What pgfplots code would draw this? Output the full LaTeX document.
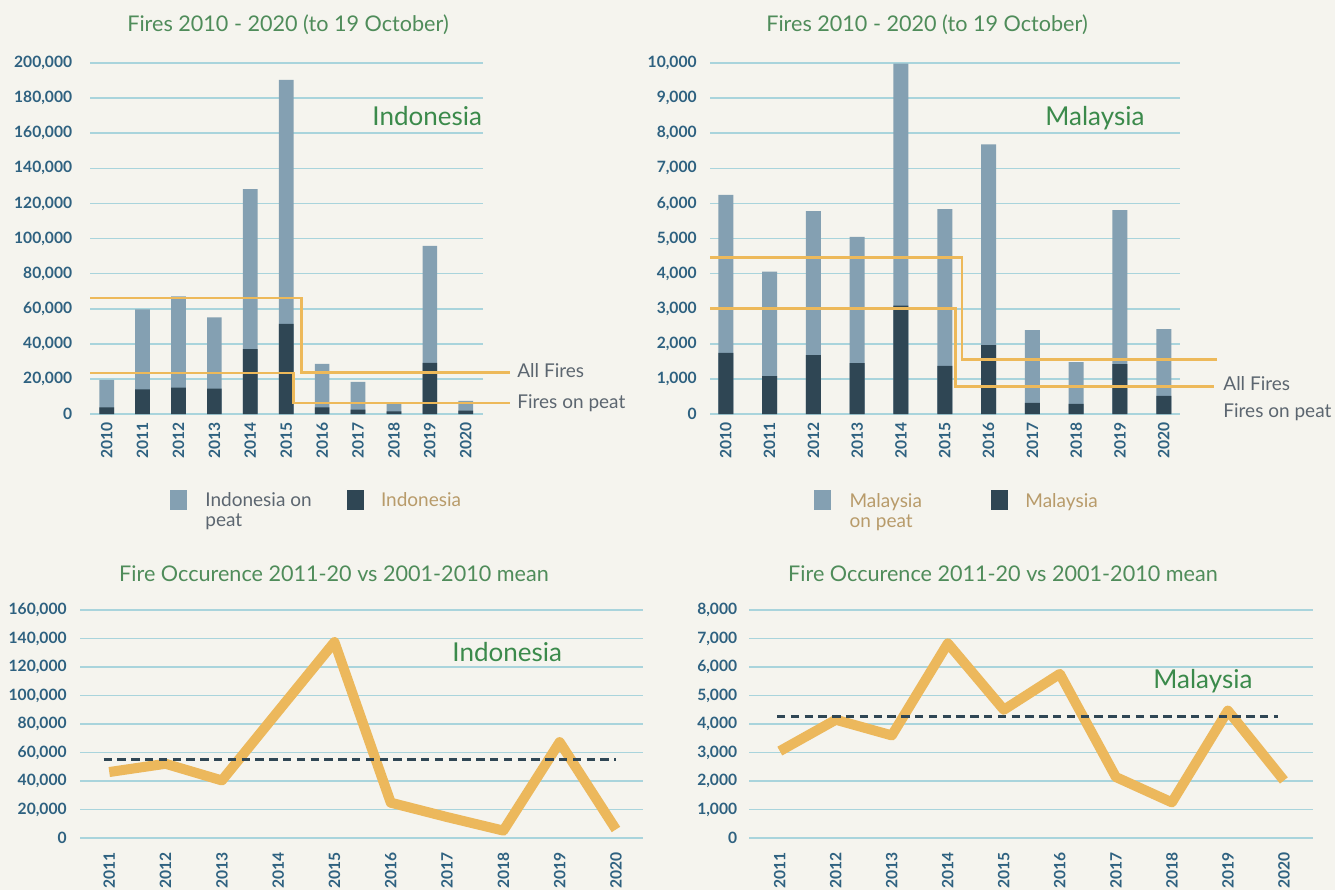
\documentclass[border=0pt]{standalone}
\usepackage{fontspec}
\setmainfont{Lato}
\usepackage{pgfplots}
\pgfplotsset{compat=1.18}
\definecolor{bg}{HTML}{F5F4EE}
\definecolor{lightbar}{HTML}{84A0B2}
\definecolor{darkbar}{HTML}{2F4654}
\definecolor{stepc}{HTML}{EDB95A}
\definecolor{bigline}{HTML}{ECB85C}
\definecolor{gridc}{HTML}{A9D4DC}
\definecolor{tickc}{HTML}{2E6180}
\definecolor{titlec}{HTML}{4F8C5A}
\definecolor{countryc}{HTML}{3B8A4B}
\definecolor{grayt}{HTML}{5C6670}
\definecolor{tan}{HTML}{B89B6A}
\pgfplotsset{
  base/.style={
    scale only axis, anchor=south west, clip=false,
    axis line style={draw=none}, major tick length=0pt,
    ymajorgrids, grid style={gridc, line width=0.8pt},
    ymin=0,
    scaled y ticks=false,
    ticklabel style={font=\bfseries\fontsize{7.8}{9}\selectfont, text=tickc},
    yticklabel style={anchor=east, inner xsep=0pt},
  },
  topx/.style={
    xtick={0,...,10},
    xticklabels={2010,2011,2012,2013,2014,2015,2016,2017,2018,2019,2020},
    xticklabel style={rotate=90, anchor=east, inner xsep=4pt},
  },
  botx/.style={
    xtick={0,...,9},
    xticklabels={2011,2012,2013,2014,2015,2016,2017,2018,2019,2020},
    xticklabel style={rotate=90, anchor=east, inner xsep=7pt},
  },
}
\newcommand{\titlef}{\fontsize{10.8}{12}\selectfont}
\newcommand{\bigf}{\fontsize{13}{15}\selectfont}
\newcommand{\labf}{\fontsize{9.5}{11}\selectfont}
\begin{document}
\begin{tikzpicture}
\useasboundingbox (0,0) rectangle (667.5pt,-445pt);
\fill[bg] (0,0) rectangle (667.5pt,-445pt);
% ---------- Top Indonesia
\begin{axis}[base, topx, at={(45.25pt,-207pt)}, width=196.25pt, height=175.5pt,
  xmin=-0.45, xmax=10.48, ymax=200000, ytick={0,20000,...,200000},
  yticklabels={0,{20,000},{40,000},{60,000},{80,000},{100,000},{120,000},{140,000},{160,000},{180,000},{200,000}},
  yticklabel style={xshift=-9pt}]
\addplot[ybar, bar width=7.35pt, bar shift=0pt, fill=lightbar, draw=none] coordinates {
(0,19500) (1,59600) (2,67000) (3,55100) (4,128100) (5,190400) (6,28500) (7,18300) (8,5800) (9,95800) (10,7500)};
\addplot[ybar, bar width=7.35pt, bar shift=0pt, fill=darkbar, draw=none] coordinates {
(0,3800) (1,14000) (2,15100) (3,14500) (4,37000) (5,51300) (6,3800) (7,2500) (8,1500) (9,29100) (10,1900)};
\addplot[stepc, line width=1.3pt] coordinates {(-0.45,66000) (5.43,66000) (5.43,23700) (11.22,23700)};
\addplot[stepc, line width=1.3pt] coordinates {(-0.45,23300) (5.2,23300) (5.2,6200) (11.22,6200)};
\end{axis}
% ---------- Top Malaysia
\begin{axis}[base, topx, at={(355pt,-207pt)}, width=235pt, height=175.5pt,
  xmin=-0.36, xmax=10.37, ymax=10000, ytick={0,1000,...,10000},
  yticklabels={0,{1,000},{2,000},{3,000},{4,000},{5,000},{6,000},{7,000},{8,000},{9,000},{10,000}},
  yticklabel style={xshift=-6.5pt}]
\addplot[ybar, bar width=7.5pt, bar shift=0pt, fill=lightbar, draw=none] coordinates {
(0,6240) (1,4060) (2,5780) (3,5050) (4,9980) (5,5840) (6,7680) (7,2390) (8,1480) (9,5810) (10,2420)};
\addplot[ybar, bar width=7.5pt, bar shift=0pt, fill=darkbar, draw=none] coordinates {
(0,1740) (1,1080) (2,1680) (3,1450) (4,3090) (5,1370) (6,1960) (7,320) (8,290) (9,1420) (10,520)};
\addplot[stepc, line width=1.3pt] coordinates {(-0.36,4460) (5.39,4460) (5.39,1560) (11.21,1560)};
\addplot[stepc, line width=1.3pt] coordinates {(-0.36,3000) (5.25,3000) (5.25,790) (11.14,790)};
\end{axis}
% ---------- Bottom Indonesia
\begin{axis}[base, botx, at={(40pt,-419pt)}, width=281.5pt, height=114pt,
  xmin=-0.52, xmax=9.48, ymax=160000, ytick={0,20000,...,160000},
  yticklabels={0,{20,000},{40,000},{60,000},{80,000},{100,000},{120,000},{140,000},{160,000}},
  yticklabel style={xshift=-6.5pt}]
\addplot[bigline, line width=5pt, line join=round] coordinates {
(0,46300) (1,52100) (2,40400) (3,89000) (4,137500) (5,24800) (6,14700) (7,5200) (8,67300) (9,6000)};
\addplot[darkbar, line width=1.4pt, dash pattern=on 4.2pt off 2.7pt] coordinates {(-0.1,55000) (9,55000)};
\end{axis}
% ---------- Bottom Malaysia
\begin{axis}[base, botx, at={(374.5pt,-419pt)}, width=282pt, height=114pt,
  xmin=-0.55, xmax=9.52, ymax=8000, ytick={0,1000,...,8000},
  yticklabels={0,{1,000},{2,000},{3,000},{4,000},{5,000},{6,000},{7,000},{8,000}},
  yticklabel style={xshift=-5.75pt}]
\addplot[bigline, line width=5pt, line join=round] coordinates {
(0,3050) (1,4150) (2,3600) (3,6830) (4,4500) (5,5760) (6,2140) (7,1250) (8,4470) (9,2020)};
\addplot[darkbar, line width=1.4pt, dash pattern=on 4.2pt off 2.7pt] coordinates {(-0.05,4270) (8.9,4270)};
\end{axis}
% ---------- Titles
\node[text=titlec, font=\titlef] at (144pt,-12.5pt) {Fires 2010 - 2020 (to 19 October)};
\node[text=titlec, font=\titlef] at (463.5pt,-12.5pt) {Fires 2010 - 2020 (to 19 October)};
\node[text=titlec, font=\titlef] at (167pt,-287pt) {Fire Occurence 2011-20 vs 2001-2010 mean};
\node[text=titlec, font=\titlef] at (501.5pt,-287pt) {Fire Occurence 2011-20 vs 2001-2010 mean};
% ---------- Country labels
\node[text=countryc, font=\bigf, anchor=base west, inner sep=0pt] at (186pt,-62.5pt) {Indonesia};
\node[text=countryc, font=\bigf, anchor=base west, inner sep=0pt] at (522.5pt,-62.5pt) {Malaysia};
\node[text=countryc, font=\bigf, anchor=base west, inner sep=0pt] at (226pt,-330.5pt) {Indonesia};
\node[text=countryc, font=\bigf, anchor=base west, inner sep=0pt] at (576.5pt,-344pt) {Malaysia};
% ---------- Step labels
\node[text=grayt, font=\labf, anchor=base west, inner sep=0pt] at (258.5pt,-188.8pt) {All Fires};
\node[text=grayt, font=\labf, anchor=base west, inner sep=0pt] at (258.5pt,-204.3pt) {Fires on peat};
\node[text=grayt, font=\labf, anchor=base west, inner sep=0pt] at (611.5pt,-195pt) {All Fires};
\node[text=grayt, font=\labf, anchor=base west, inner sep=0pt] at (611.5pt,-208.5pt) {Fires on peat};
% ---------- Legends
\fill[lightbar] (85pt,-245pt) rectangle (93.5pt,-255pt);
\node[text=grayt, font=\labf, anchor=base west, inner sep=0pt] at (102.5pt,-253.3pt) {Indonesia on};
\node[text=grayt, font=\labf, anchor=base west, inner sep=0pt] at (102.5pt,-263.3pt) {peat};
\fill[darkbar] (173.3pt,-245pt) rectangle (182pt,-255pt);
\node[text=tan, font=\labf, anchor=base west, inner sep=0pt] at (190.3pt,-253.3pt) {Indonesia};
\fill[lightbar] (407pt,-245pt) rectangle (415.5pt,-255pt);
\node[text=tan, font=\labf, anchor=base west, inner sep=0pt] at (424.6pt,-253.6pt) {Malaysia};
\node[text=tan, font=\labf, anchor=base west, inner sep=0pt] at (424.6pt,-263.5pt) {on peat};
\fill[darkbar] (495.5pt,-245pt) rectangle (504pt,-255pt);
\node[text=tan, font=\labf, anchor=base west, inner sep=0pt] at (512.5pt,-253.6pt) {Malaysia};
\end{tikzpicture}
\end{document}
